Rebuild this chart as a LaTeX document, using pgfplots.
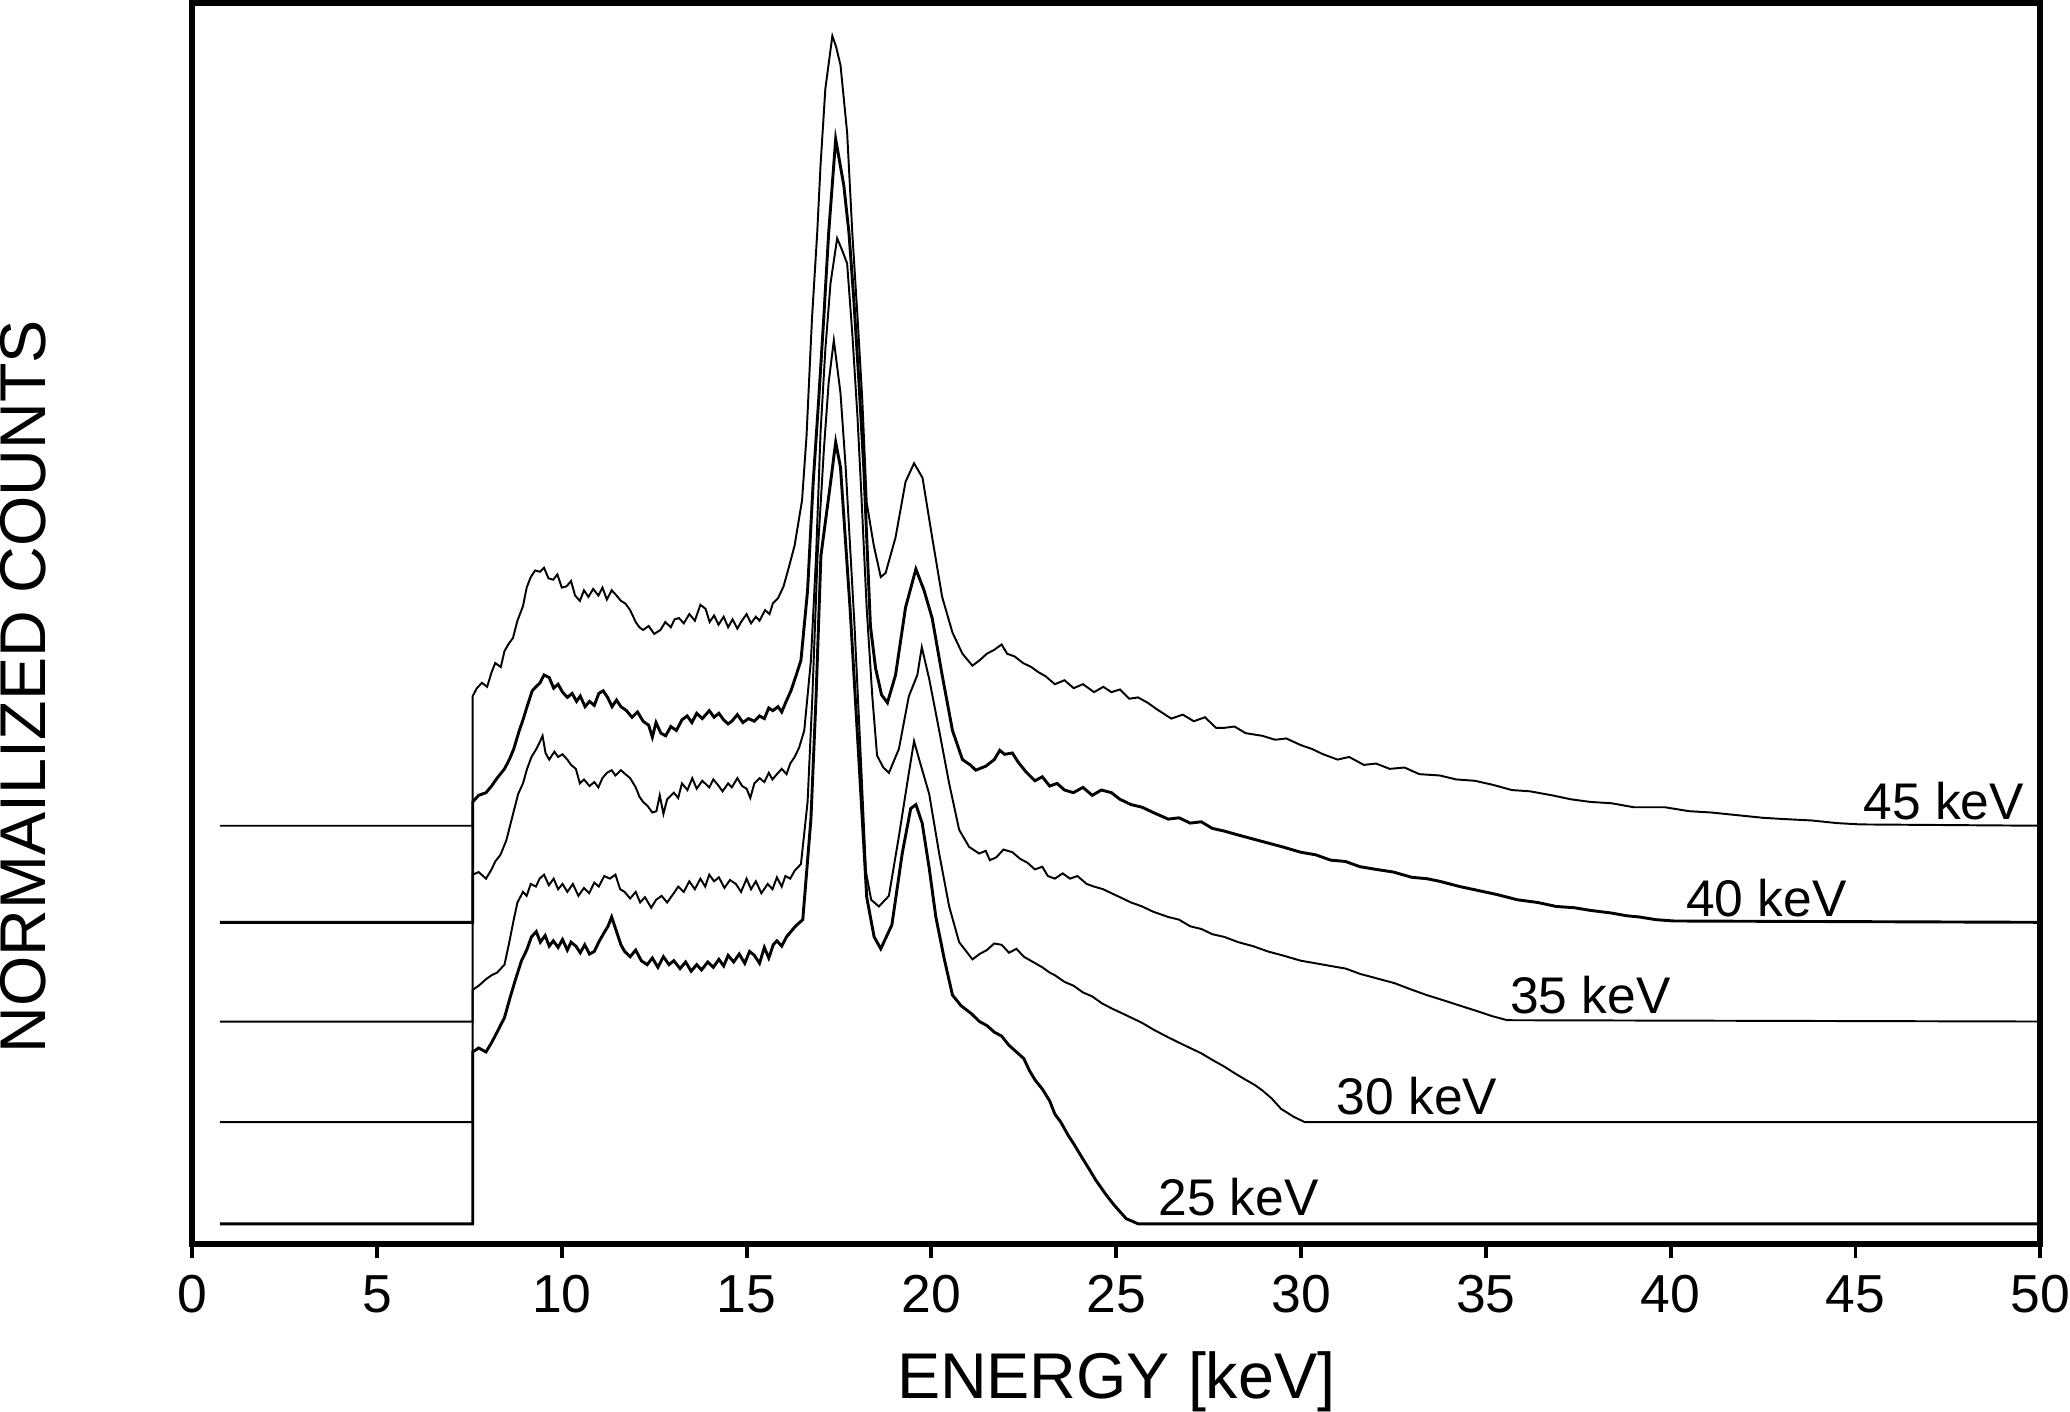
\documentclass[border=0pt]{standalone}
\usepackage{pgfplots}
\pgfplotsset{compat=1.18}
\usepackage{fontspec}
\setmainfont{Liberation Sans}

\begin{document}
\begin{tikzpicture}
\begin{axis}[
 width=13.36cm,
 height=8.97cm,
 scale only axis,
 xmin=0, xmax=50,
 ymin=0, ymax=938,
 xtick={0,5,...,50},
 ytick=\empty,
 tick align=outside,
 xtick pos=bottom,
 major tick length=0.105cm,
 axis line style={line width=1.2pt},
 tick style={line width=0.8pt,black},
 /pgf/number format/assume math mode=true,
 tick label style={font=\fontsize{11}{13}\selectfont,inner xsep=0pt},
 xlabel={ENERGY [keV]},
 ylabel={NORMAILIZED COUNTS},
 label style={font=\fontsize{13.3}{15}\selectfont,inner sep=0pt},
 xlabel style={at={(axis description cs:0.5,-0.111)},anchor=center},
 ylabel style={at={(axis description cs:-0.0916,0.449)},anchor=center},
 cycle list={{black,line width=0.6pt,no markers}},
 clip=false
]

% 45 keV
\addplot coordinates {
 (0.75,316)(7.59,316)(7.59,414)(7.70,420)(7.84,424)(7.98,421)(8.10,432)(8.20,439)(8.35,436)
 (8.45,448)(8.55,453)(8.68,458)(8.80,471)(8.95,482)(9.05,496)(9.16,504)(9.28,509)(9.41,508)
 (9.52,511)(9.64,503)(9.77,502)(9.88,506)(10.00,496)(10.13,497)(10.25,501)(10.36,490)(10.49,486)
 (10.60,494)(10.72,489)(10.85,495)(10.99,490)(11.10,496)(11.22,487)(11.35,494)(11.45,491)
 (11.60,486)(11.72,484)(11.85,479)(12.00,470)(12.10,466)(12.20,464)(12.35,467)(12.50,461)
 (12.67,464)(12.80,470)(12.95,466)(13.05,472)(13.17,473)(13.30,469)(13.45,476)(13.60,471)
 (13.75,483)(13.89,480)(14.00,470)(14.12,475)(14.24,468)(14.38,474)(14.50,466)(14.62,472)
 (14.75,465)(14.85,470)(15.00,476)(15.12,469)(15.25,474)(15.35,471)(15.50,479)(15.62,476)
 (15.71,484)(15.85,488)(16.00,497)(16.14,511)(16.30,528)(16.50,562)(16.62,610)(16.77,700)
 (16.91,764)(17.00,815)(17.13,873)(17.32,913)(17.42,905)(17.54,891)(17.72,840)(17.86,764)
 (18.00,701)(18.13,638)(18.25,560)(18.44,528)(18.63,504)(18.76,507)(19.03,534)(19.30,576)
 (19.53,590)(19.76,579)(20.02,534)(20.29,489)(20.57,462)(20.84,446)(21.11,437)(21.30,441)
 (21.50,446)(21.70,449)(21.90,453)(22.05,446)(22.25,444)(22.48,439)(22.70,436)(22.90,432)
 (23.09,429)(23.34,423)(23.60,426)(23.85,420)(24.10,423)(24.40,417)(24.65,421)(24.87,417)
 (25.10,419)(25.35,412)(25.59,413)(25.85,409)(26.10,404)(26.49,397)(26.80,400)(27.10,395)
 (27.40,398)(27.70,390)(27.92,390)(28.20,391)(28.50,386)(28.95,384)(29.30,381)(29.60,382)
 (29.99,377)(30.30,374)(30.60,370)(30.99,366)(31.30,368)(31.70,362)(32.03,363)(32.40,359)
 (32.80,360)(33.20,355)(33.75,354)(34.20,351)(34.70,350)(35.18,347)(35.70,343)(36.20,342)
 (36.79,339)(37.30,336)(37.83,334)(38.40,333)(39.00,330)(39.84,330)(40.50,327)(41.10,326)
 (41.80,324)(42.50,322)(43.10,321)(43.81,320)(44.50,318)(45.13,317)(50,316)
};

% 40 keV
\addplot coordinates {
 (0.75,243)(7.59,243)(7.59,334)(7.75,339)(7.95,341)(8.10,346)(8.25,352)(8.45,359)(8.58,366)
 (8.70,374)(8.85,388)(8.95,396)(9.06,406)(9.20,418)(9.30,421)(9.41,424)(9.52,430)(9.66,428)
 (9.78,420)(9.90,423)(10.02,417)(10.15,413)(10.28,416)(10.40,410)(10.50,414)(10.63,406)
 (10.75,410)(10.88,407)(11.00,416)(11.12,418)(11.24,413)(11.36,406)(11.48,411)(11.60,406)
 (11.75,403)(11.90,398)(12.05,402)(12.20,395)(12.35,392)(12.45,383)(12.55,394)(12.68,386)
 (12.81,384)(12.95,391)(13.10,388)(13.25,396)(13.39,399)(13.52,394)(13.65,401)(13.80,397)
 (13.99,403)(14.12,398)(14.25,401)(14.38,396)(14.50,393)(14.60,395)(14.75,400)(14.90,394)
 (15.05,397)(15.21,395)(15.35,399)(15.48,397)(15.60,405)(15.71,403)(15.85,406)(15.95,402)
 (16.07,410)(16.20,418)(16.32,428)(16.47,441)(16.65,494)(16.80,575)(16.95,638)(17.09,701)
 (17.22,764)(17.41,835)(17.63,800)(17.77,764)(17.90,714)(18.04,651)(18.17,587)(18.35,467)
 (18.49,435)(18.65,415)(18.81,409)(19.03,430)(19.30,481)(19.58,510)(19.80,494)(20.02,473)
 (20.29,430)(20.57,388)(20.84,366)(21.05,362)(21.20,358)(21.47,361)(21.70,366)(21.85,373)
 (21.98,370)(22.19,371)(22.35,364)(22.55,357)(22.80,350)(23.00,353)(23.20,346)(23.40,348)
 (23.60,343)(23.84,341)(24.10,345)(24.35,339)(24.60,343)(24.87,341)(25.10,336)(25.40,332)
 (25.70,330)(26.00,326)(26.41,321)(26.70,322)(27.00,318)(27.30,319)(27.60,314)(27.92,312)
 (28.30,309)(28.70,306)(29.10,303)(29.50,300)(29.99,296)(30.40,294)(30.80,290)(31.20,289)
 (31.60,285)(32.03,283)(32.50,281)(33.00,277)(33.40,276)(33.75,274)(34.30,270)(34.80,267)
 (35.30,264)(35.86,260)(36.40,258)(36.90,255)(37.40,254)(37.83,252)(38.40,250)(38.80,248)
 (39.16,247)(39.60,245)(40.09,244)(50,243)
};

% 35 keV
\addplot coordinates {
 (0.75,168)(7.59,168)(7.59,279)(7.75,281)(7.95,276)(8.10,283)(8.20,289)(8.34,294)(8.50,305)
 (8.60,316)(8.70,327)(8.82,340)(8.95,348)(9.06,359)(9.18,368)(9.31,374)(9.40,379)(9.48,384)
 (9.56,371)(9.66,366)(9.80,372)(9.90,368)(10.02,370)(10.15,366)(10.25,362)(10.38,359)
 (10.49,348)(10.60,351)(10.75,346)(10.88,349)(10.99,345)(11.10,352)(11.22,356)(11.35,358)
 (11.45,354)(11.60,358)(11.72,355)(11.85,352)(12.00,345)(12.10,338)(12.20,334)(12.32,331)
 (12.45,326)(12.56,327)(12.65,339)(12.75,325)(12.85,336)(13.03,341)(13.15,337)(13.25,348)
 (13.40,343)(13.53,352)(13.65,344)(13.80,350)(13.99,345)(14.10,351)(14.22,347)(14.35,342)
 (14.50,348)(14.60,345)(14.75,352)(14.88,346)(15.00,344)(15.10,337)(15.21,348)(15.35,352)
 (15.48,349)(15.60,356)(15.70,351)(15.82,355)(15.95,359)(16.08,355)(16.18,363)(16.30,368)
 (16.42,375)(16.56,388)(16.74,441)(16.88,520)(17.00,613)(17.13,676)(17.27,726)(17.45,760)
 (17.60,750)(17.72,741)(17.86,688)(18.00,625)(18.09,575)(18.25,480)(18.40,414)(18.53,369)
 (18.70,360)(18.85,356)(19.12,374)(19.39,414)(19.62,430)(19.74,451)(19.94,427)(20.21,388)
 (20.48,348)(20.75,313)(21.02,300)(21.29,295)(21.47,297)(21.58,290)(21.75,292)(21.95,298)
 (22.19,296)(22.40,291)(22.60,288)(22.80,283)(23.00,285)(23.15,278)(23.34,276)(23.55,280)
 (23.75,276)(23.95,278)(24.20,272)(24.40,270)(24.65,268)(24.87,265)(25.10,262)(25.40,258)
 (25.70,255)(26.00,251)(26.41,247)(26.70,245)(27.00,240)(27.30,238)(27.60,234)(27.92,232)
 (28.30,228)(28.70,225)(29.10,221)(29.50,218)(29.99,214)(30.40,212)(30.80,210)(31.21,208)
 (31.60,204)(32.00,201)(32.53,197)(33.00,192)(33.40,188)(33.86,184)(34.30,180)(34.75,176)
 (35.18,172)(35.58,169)(50,168)
};

% 30 keV
\addplot coordinates {
 (0.75,92)(7.59,92)(7.59,192)(7.75,195)(7.95,200)(8.10,203)(8.25,205)(8.45,211)(8.58,228)
 (8.70,245)(8.80,258)(8.95,266)(9.05,263)(9.16,272)(9.30,270)(9.40,276)(9.52,279)(9.65,271)
 (9.78,276)(9.90,268)(10.02,272)(10.15,266)(10.30,272)(10.45,263)(10.60,269)(10.74,265)
 (10.88,273)(11.00,270)(11.15,278)(11.30,276)(11.45,279)(11.58,268)(11.70,266)(11.85,261)
 (12.00,266)(12.12,258)(12.25,262)(12.42,254)(12.55,260)(12.70,263)(12.85,258)(13.03,265)
 (13.15,270)(13.30,266)(13.45,274)(13.60,268)(13.75,276)(13.88,270)(13.99,279)(14.12,274)
 (14.25,277)(14.40,269)(14.55,275)(14.71,272)(14.85,266)(15.00,276)(15.12,268)(15.25,274)
 (15.40,265)(15.57,272)(15.70,268)(15.82,277)(15.95,270)(16.05,278)(16.18,276)(16.30,282)
 (16.47,287)(16.65,334)(16.78,414)(16.92,520)(17.09,600)(17.22,651)(17.36,683)(17.54,643)
 (17.68,587)(17.92,467)(18.10,361)(18.23,281)(18.37,260)(18.58,255)(18.85,263)(19.12,308)
 (19.39,356)(19.53,380)(19.67,366)(19.94,340)(20.21,295)(20.48,255)(20.75,228)(21.11,215)
 (21.30,219)(21.50,222)(21.70,227)(21.90,226)(22.10,220)(22.30,223)(22.50,217)(22.75,213)
 (23.00,209)(23.20,205)(23.34,203)(23.60,198)(23.85,195)(24.10,190)(24.35,187)(24.60,182)
 (24.87,178)(25.10,175)(25.40,171)(25.70,167)(26.00,162)(26.41,156)(26.70,152)(27.00,148)
 (27.30,144)(27.60,139)(27.92,134)(28.20,129)(28.50,124)(28.75,120)(28.95,116)(29.20,110)
 (29.46,102)(29.80,96)(30.10,92)(50,92)
};

% 25 keV
\addplot coordinates {
 (0.75,15)(7.59,15)(7.59,145)(7.75,148)(7.95,145)(8.10,152)(8.25,160)(8.45,171)(8.60,186)
 (8.75,200)(8.91,214)(9.05,222)(9.18,232)(9.31,236)(9.42,228)(9.55,233)(9.66,225)(9.77,229)
 (9.90,224)(10.02,230)(10.15,222)(10.25,228)(10.38,225)(10.50,220)(10.62,226)(10.75,219)
 (10.88,221)(11.00,228)(11.12,234)(11.25,240)(11.35,247)(11.48,236)(11.60,226)(11.70,221)
 (11.85,217)(12.00,222)(12.15,214)(12.31,211)(12.45,216)(12.60,209)(12.75,217)(12.90,211)
 (13.03,214)(13.20,208)(13.35,213)(13.50,206)(13.65,211)(13.78,207)(13.95,213)(14.10,209)
 (14.25,215)(14.38,210)(14.50,218)(14.65,213)(14.80,219)(14.95,212)(15.08,221)(15.21,218)
 (15.35,212)(15.48,224)(15.60,216)(15.72,226)(15.82,229)(15.95,225)(16.08,232)(16.20,236)
 (16.32,240)(16.52,245)(16.74,321)(16.88,414)(17.01,520)(17.27,575)(17.41,606)(17.54,587)
 (17.80,480)(18.05,360)(18.25,262)(18.45,232)(18.63,223)(18.93,241)(19.21,295)(19.44,329)
 (19.58,332)(19.75,318)(19.94,284)(20.12,247)(20.35,215)(20.57,188)(20.80,180)(21.08,174)
 (21.30,168)(21.50,165)(21.70,160)(21.90,157)(22.10,150)(22.30,145)(22.50,140)(22.65,131)
 (22.80,124)(23.00,117)(23.20,108)(23.34,98)(23.50,92)(23.70,82)(23.84,76)(24.10,64)
 (24.30,55)(24.45,48)(24.70,38)(24.95,29)(25.27,19)(25.60,15)(50,15)
};

% curve labels
\node[font=\fontsize{10.6}{12}\selectfont] at (axis cs:47.39,335) {45 keV};
\node[font=\fontsize{10.6}{12}\selectfont] at (axis cs:42.59,261) {40 keV};
\node[font=\fontsize{10.6}{12}\selectfont] at (axis cs:37.83,188) {35 keV};
\node[font=\fontsize{10.6}{12}\selectfont] at (axis cs:33.14,112) {30 keV};
\node[font=\fontsize{10.6}{12}\selectfont] at (axis cs:28.31,35) {25 keV};

\end{axis}
\end{tikzpicture}
\end{document}
